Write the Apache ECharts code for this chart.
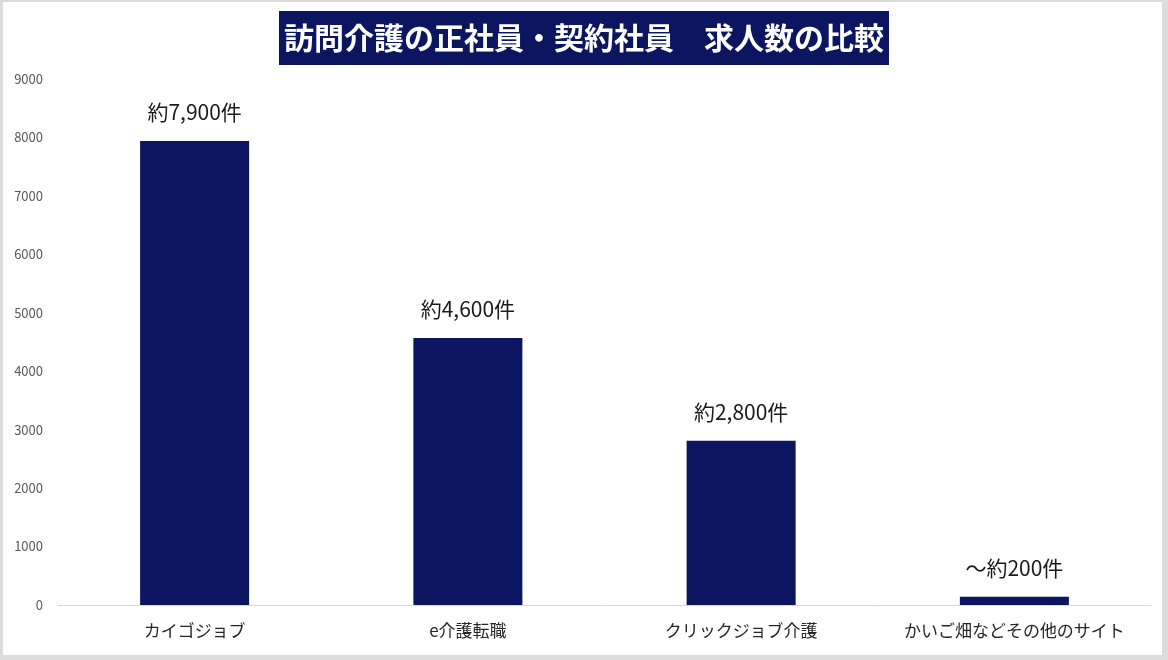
<!DOCTYPE html>
<html>
<head>
<meta charset="utf-8">
<script src="https://cdn.jsdelivr.net/npm/echarts@6/dist/echarts.min.js"></script>
<style>
html,body{margin:0;padding:0;background:#dcdcdc;}
#chart{width:1168px;height:660px;}
</style>
</head>
<body>
<div id="chart"></div>
<script>
const titleText = '訪問介護の正社員・契約社員　求人数の比較';
const categories = ['カイゴジョブ', 'e介護転職', 'クリックジョブ介護', 'かいご畑などその他のサイト'];
const values = [7940, 4570, 2810, 140];
const valueLabels = ['約7,900件', '約4,600件', '約2,800件', '～約200件'];
const yTicks = [0, 1000, 2000, 3000, 4000, 5000, 6000, 7000, 8000, 9000];

const FONT = '"Noto Sans CJK JP", "Noto Sans", sans-serif';
const chart = echarts.init(document.getElementById('chart'));
chart.setOption({
  backgroundColor: '#dcdcdc',
  animation: false,
  graphic: [{
    type: 'rect', z: -100, silent: true,
    shape: { x: 3, y: 2, width: 1159, height: 653 },
    style: { fill: '#ffffff' }
  }],
  title: {
    text: titleText,
    left: 'center',
    top: 11,
    backgroundColor: '#0b1560',
    padding: [11, 5, 11, 5],
    textStyle: { color: '#ffffff', fontSize: 30, fontWeight: 'bold', fontFamily: FONT, lineHeight: 32 }
  },
  grid: { left: 58, right: 17, top: 79, bottom: 55, containLabel: false },
  xAxis: {
    type: 'category',
    data: categories,
    axisLine: { show: true, lineStyle: { color: '#d9d9d9', width: 1 } },
    axisTick: { show: false },
    axisLabel: { color: '#262626', fontSize: 17, fontFamily: FONT, margin: 17, interval: 0 }
  },
  yAxis: {
    type: 'value',
    min: yTicks[0],
    max: yTicks[yTicks.length - 1],
    interval: yTicks[1] - yTicks[0],
    splitLine: { show: false },
    axisLine: { show: false },
    axisTick: { show: false },
    axisLabel: { color: '#595959', fontSize: 13, fontFamily: FONT, margin: 15, formatter: v => String(v) }
  },
  series: [{
    type: 'bar',
    data: values,
    barWidth: 109,
    itemStyle: { color: '#0b1560' },
    label: {
      show: true,
      position: 'top',
      distance: 18,
      color: '#1a1a1a',
      fontSize: 21,
      fontFamily: FONT,
      formatter: p => valueLabels[p.dataIndex]
    }
  }]
});
</script>
</body>
</html>
